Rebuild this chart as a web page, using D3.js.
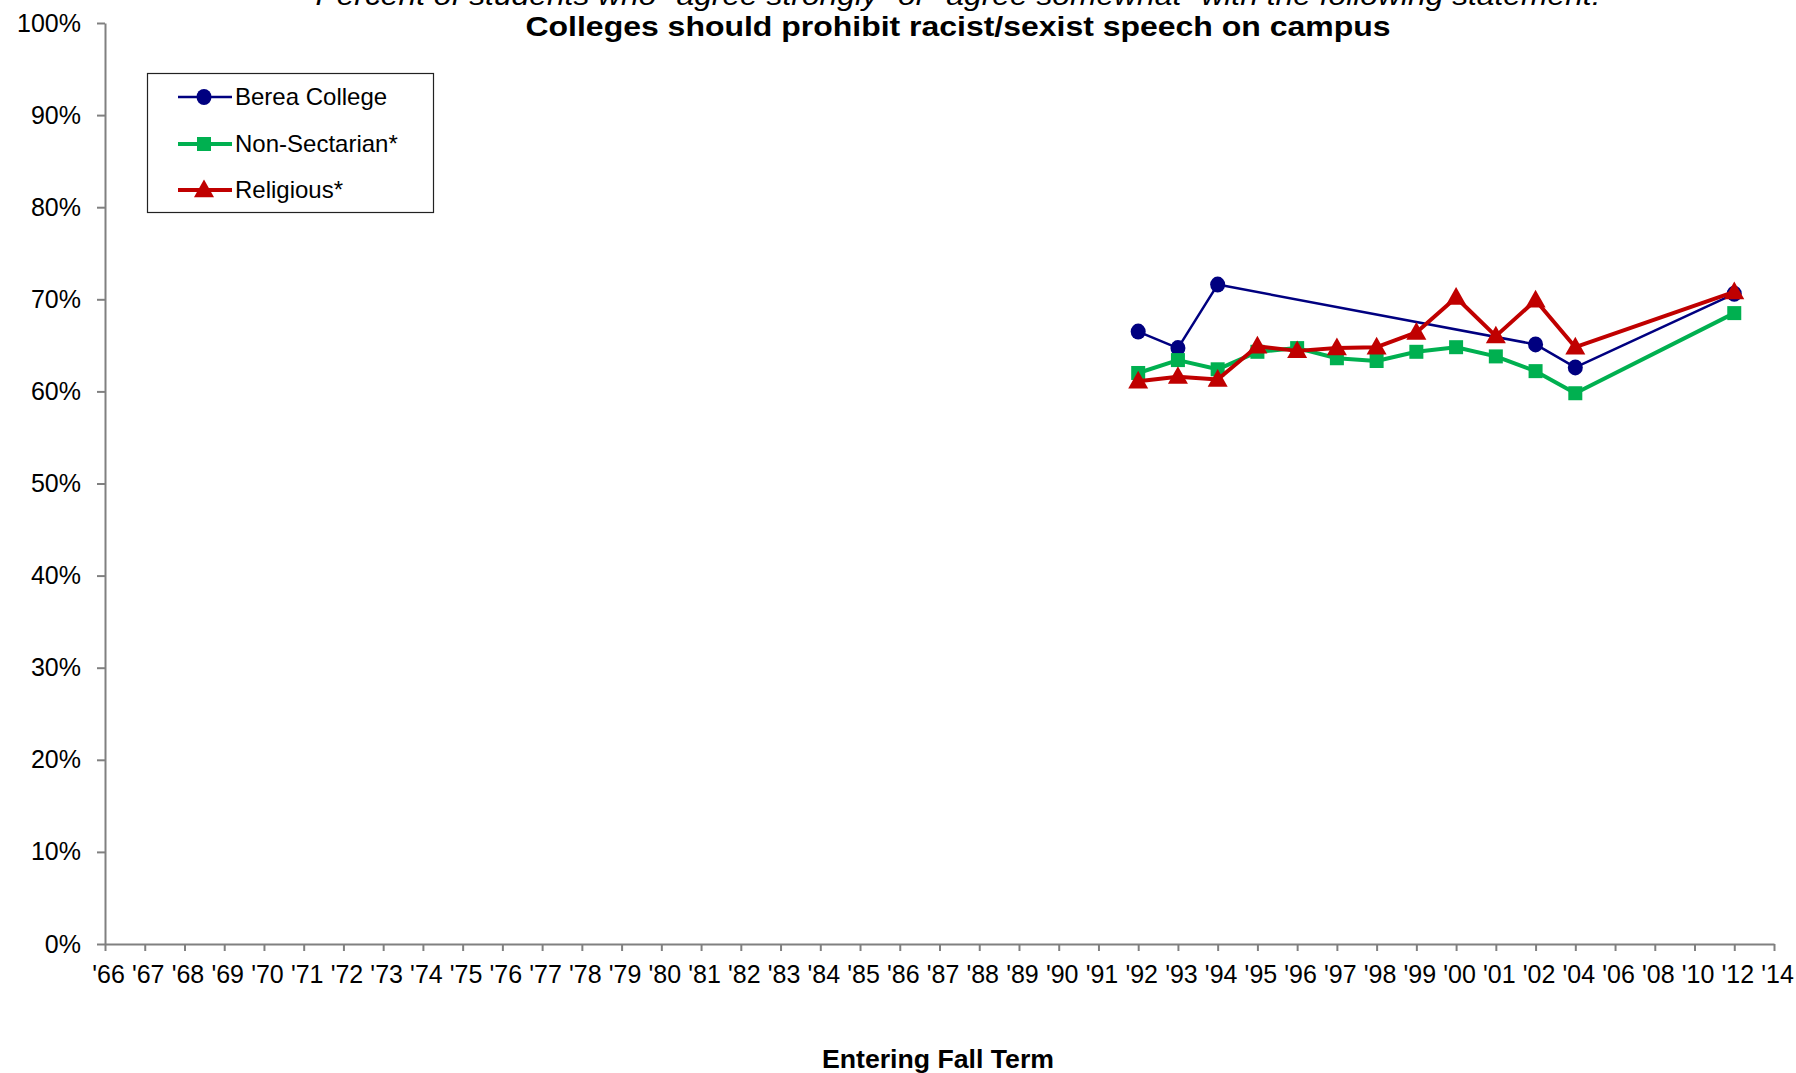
<!DOCTYPE html>
<html>
<head>
<meta charset="utf-8">
<script src="https://cdn.jsdelivr.net/npm/d3@7"></script>
<style>
  html, body { margin: 0; padding: 0; background: #fff; }
  svg { display: block; font-family: "Liberation Sans", Arial, sans-serif; }
</style>
</head>
<body>
<div id="chart"></div>
<script>
// category labels on the x axis (entering fall term)
const terms = ["'66","'67","'68","'69","'70","'71","'72","'73","'74","'75","'76","'77","'78","'79",
  "'80","'81","'82","'83","'84","'85","'86","'87","'88","'89","'90","'91","'92","'93","'94","'95",
  "'96","'97","'98","'99","'00","'01","'02","'04","'06","'08","'10","'12","'14"];

// terms that have survey data
const surveyTerms = ["'92","'93","'94","'95","'96","'97","'98","'99","'00","'01","'02","'04","'12"];

// percent agreeing, null = no survey that year
const berea        = [66.5, 64.7, 71.6, null, null, null, null, null, null, null, 65.1, 62.6, 70.6];
const nonSectarian = [62.0, 63.4, 62.4, 64.3, 64.7, 63.6, 63.3, 64.3, 64.8, 63.8, 62.2, 59.8, 68.5];
const religious    = [61.1, 61.6, 61.3, 64.9, 64.4, 64.7, 64.8, 66.4, 70.2, 66.0, 69.9, 64.8, 70.8];

const yTicks = [0, 10, 20, 30, 40, 50, 60, 70, 80, 90, 100];

const series = [
  { name: "Berea College",  values: berea,        color: "#000080", width: 2.5, shape: "circle" },
  { name: "Non-Sectarian*", values: nonSectarian, color: "#00B050", width: 4,   shape: "square" },
  { name: "Religious*",     values: religious,    color: "#C00000", width: 4,   shape: "triangle" }
];

// size & plot area
const W = 1796, H = 1073;
const plot = { left: 105, right: 1774, top: 23, bottom: 944 };

const svg = d3.select("#chart").append("svg")
  .attr("width", W)
  .attr("height", H);

svg.append("rect").attr("width", W).attr("height", H).attr("fill", "#fff");

// scales
const x = d3.scalePoint()
  .domain(terms)
  .range([plot.left, plot.right])
  .padding(0);

const y = d3.scaleLinear()
  .domain([0, 100])
  .range([plot.bottom, plot.top]);

// axes
const yAxis = svg.append("g")
  .attr("transform", `translate(${plot.left},0)`)
  .call(d3.axisLeft(y).tickValues(yTicks).tickSize(8).tickSizeOuter(0).tickPadding(16)
    .tickFormat(d => d + "%"));

const xAxis = svg.append("g")
  .attr("transform", `translate(0,${plot.bottom})`)
  .call(d3.axisBottom(x).tickSize(7).tickSizeOuter(0).tickPadding(14));

[yAxis, xAxis].forEach(g => {
  g.select(".domain").attr("stroke", "#808080").attr("stroke-width", 2);
  g.selectAll(".tick line").attr("stroke", "#808080").attr("stroke-width", 2);
});
yAxis.selectAll("text").attr("font-size", 25).attr("fill", "#000")
  .attr("font-family", "'Liberation Sans', Arial, sans-serif");
xAxis.selectAll("text").attr("font-size", 25).attr("fill", "#000")
  .attr("font-family", "'Liberation Sans', Arial, sans-serif")
  .attr("dx", 3);

// markers
function drawMarker(g, shape, color, cx, cy) {
  if (shape === "circle") {
    g.append("ellipse").attr("cx", cx).attr("cy", cy).attr("rx", 7.5).attr("ry", 8).attr("fill", color);
  } else if (shape === "square") {
    g.append("rect").attr("x", cx - 7).attr("y", cy - 7)
      .attr("width", 14).attr("height", 14).attr("fill", color);
  } else {
    const r = 10;
    g.append("path")
      .attr("d", `M${cx},${cy - r * 1.05} L${cx + r},${cy + r * 0.72} L${cx - r},${cy + r * 0.72} Z`)
      .attr("fill", color);
  }
}

const line = d3.line()
  .x(d => x(d.term))
  .y(d => y(d.value));

series.forEach(s => {
  const pts = surveyTerms.map((t, i) => ({ term: t, value: s.values[i] }))
    .filter(d => d.value != null);
  const g = svg.append("g");
  g.append("path")
    .datum(pts)
    .attr("fill", "none")
    .attr("stroke", s.color)
    .attr("stroke-width", s.width)
    .attr("stroke-linejoin", "round")
    .attr("d", line);
  pts.forEach(d => drawMarker(g, s.shape, s.color, x(d.term), y(d.value)));
});

// legend
const legend = svg.append("g");
legend.append("rect")
  .attr("x", 147.5).attr("y", 73.5).attr("width", 286).attr("height", 139)
  .attr("fill", "#fff").attr("stroke", "#222").attr("stroke-width", 1.2);
const rowY = [97, 144, 190];
series.forEach((s, i) => {
  legend.append("line")
    .attr("x1", 178).attr("x2", 232).attr("y1", rowY[i]).attr("y2", rowY[i])
    .attr("stroke", s.color).attr("stroke-width", s.width);
  drawMarker(legend, s.shape, s.color, 204, rowY[i]);
  legend.append("text")
    .attr("x", 235).attr("y", rowY[i])
    .attr("dy", "0.35em")
    .attr("font-size", 24)
    .text(s.name);
});

// titles (first line runs off the top edge, as in the original)
svg.append("text")
  .attr("x", 958).attr("y", 5)
  .attr("text-anchor", "middle")
  .attr("font-size", 27)
  .attr("font-style", "italic")
  .attr("textLength", 1285)
  .attr("lengthAdjust", "spacingAndGlyphs")
  .text("Percent of students who \"agree strongly\" or \"agree somewhat\" with the following statement:");

svg.append("text")
  .attr("x", 958).attr("y", 36)
  .attr("text-anchor", "middle")
  .attr("font-size", 28)
  .attr("font-weight", "bold")
  .attr("textLength", 865)
  .attr("lengthAdjust", "spacingAndGlyphs")
  .text("Colleges should prohibit racist/sexist speech on campus");

svg.append("text")
  .attr("x", 938).attr("y", 1068)
  .attr("text-anchor", "middle")
  .attr("font-size", 25)
  .attr("font-weight", "bold")
  .attr("textLength", 232)
  .attr("lengthAdjust", "spacingAndGlyphs")
  .text("Entering Fall Term");
</script>
</body>
</html>
